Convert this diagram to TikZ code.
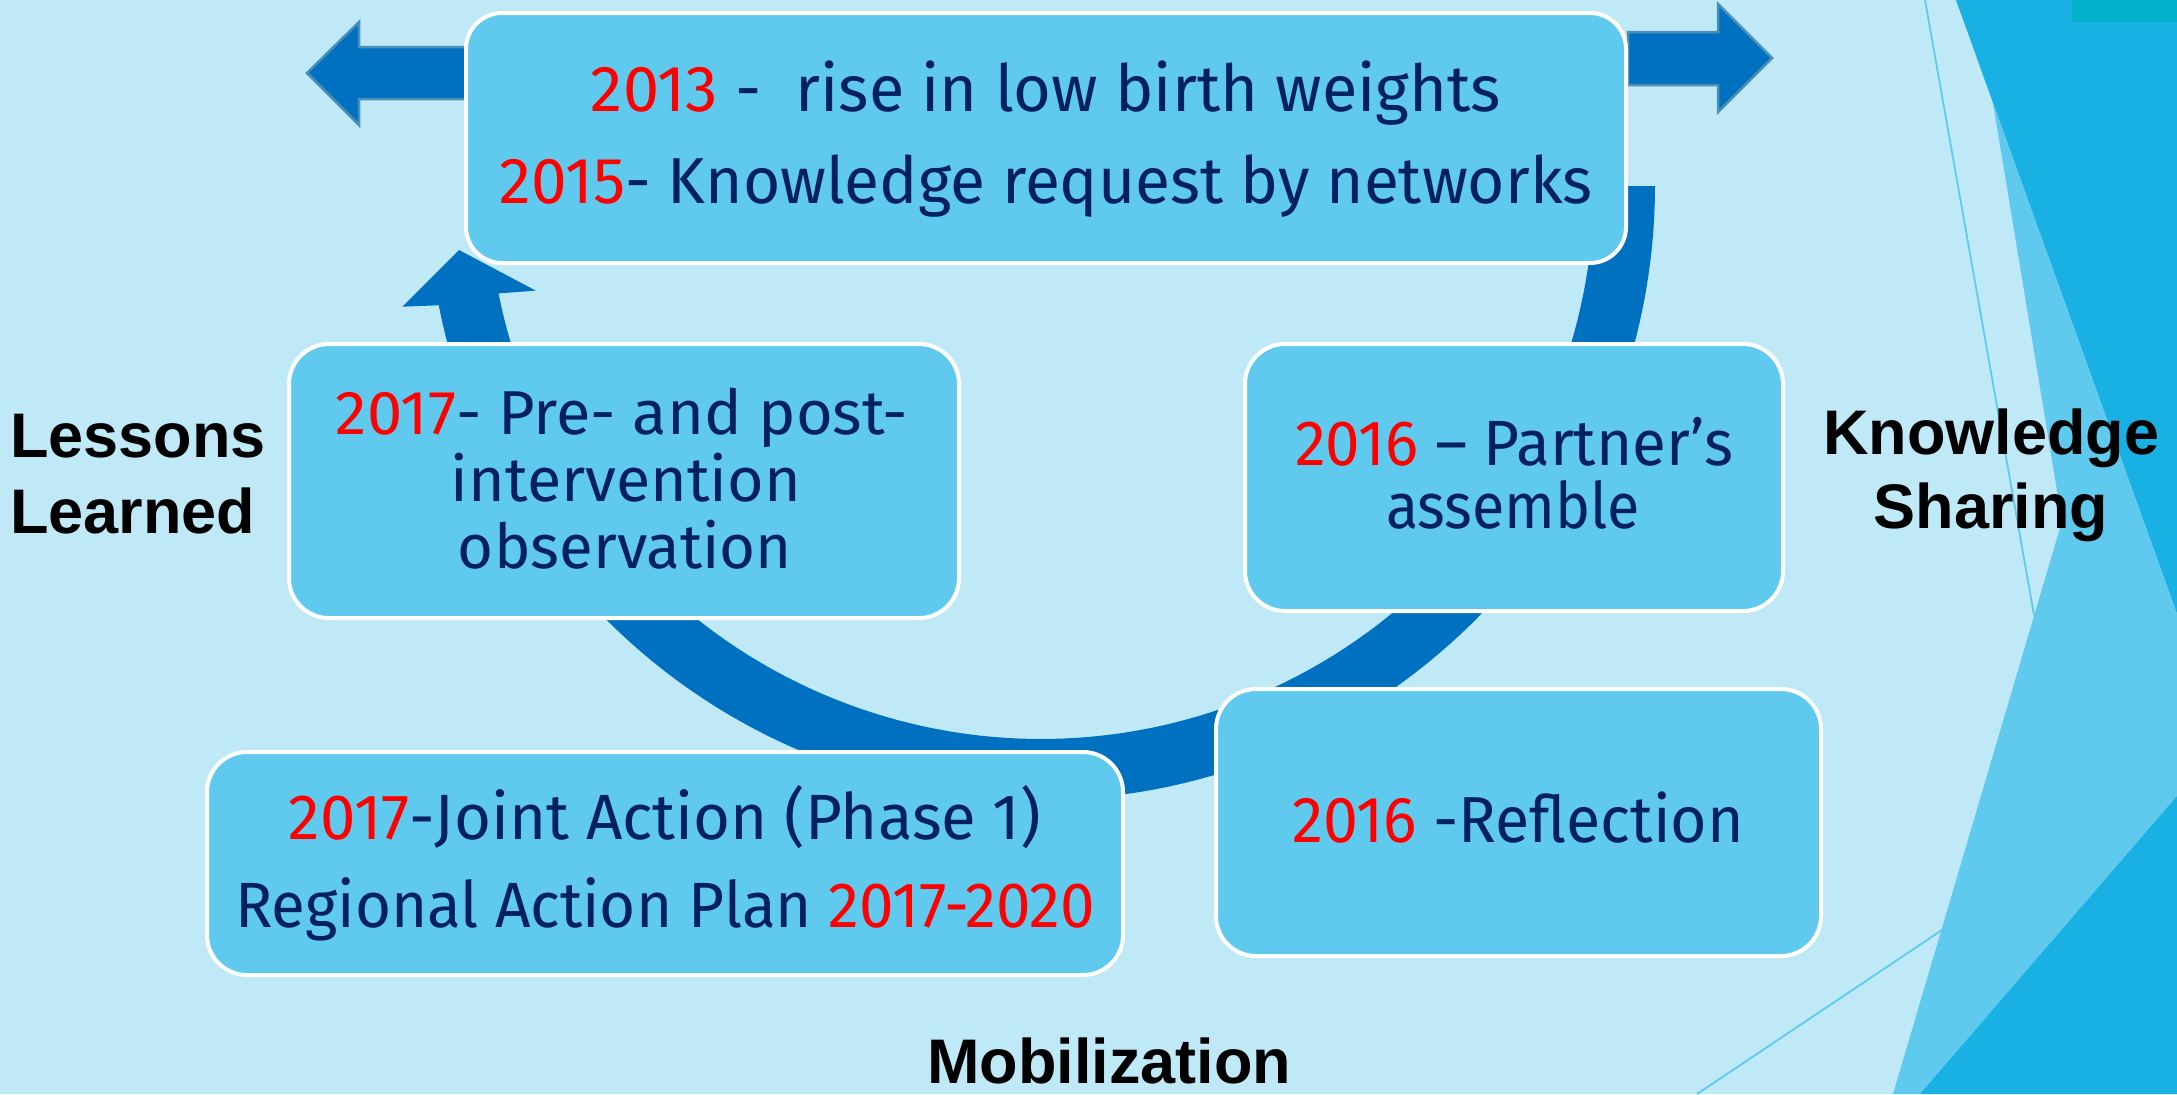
\documentclass[tikz,border=0pt]{standalone}
\usepackage{fontspec}
\usepackage{graphicx}
\newfontfamily\boxfont{Fira Sans}
\newfontfamily\labfont{Liberation Sans}
\definecolor{bgblue}{HTML}{C0E9F8}
\definecolor{boxfill}{HTML}{5FCAEE}
\definecolor{darkdeco}{HTML}{19B0E4}
\definecolor{tealdeco}{HTML}{01B0C9}
\definecolor{arcblue}{HTML}{0070C0}
\definecolor{arrowedge}{HTML}{4A90B4}
\definecolor{navytext}{HTML}{002060}
\definecolor{yearred}{HTML}{FF0000}
\newcommand\redyr[1]{\textcolor{yearred}{#1}}
\newcommand\fitw[2]{\resizebox{#1pt}{\height}{#2}}
\begin{document}
\begin{tikzpicture}[x=0.5pt,y=-0.5pt,
  stagebox/.style={draw=white, line width=2pt, fill=boxfill, rounded corners=20pt,
    inner sep=0pt, outer sep=0pt},
  boxtxt/.style={anchor=base, inner sep=0pt, text=navytext,
    font=\boxfont\fontsize{32.5}{39}\selectfont},
  labtxt/.style={inner sep=0pt, text=black,
    font=\labfont\bfseries\fontsize{31.5}{38}\selectfont},
  flatarrow/.style={fill=arcblue, draw=arrowedge, line width=1.25pt, line join=miter}]
% background
\fill[bgblue] (0,0) rectangle (2177,1094);
\useasboundingbox (0,0) rectangle (2177,1094);
% right decorations
\fill[darkdeco] (1956,0) -- (2177,0) -- (2177,614) -- (1993,103) -- cycle;
\fill[boxfill] (1993,103) -- (2177,614) -- (2177,796) -- (1920,1094) -- (1893,1094) -- (2062,521) -- cycle;
\fill[darkdeco] (1920,1094) -- (2177,796) -- (2177,1094) -- cycle;
\fill[tealdeco] (2072,0) rectangle (2177,22);
\draw[boxfill, line width=0.9pt] (1925,0) -- (2034,615);
\draw[boxfill, line width=0.9pt] (1697,1094) -- (1942,930);
% circular arrow
\fill[arcblue]
  plot[domain=0:168.8, samples=120] ({1041+614*cos(\x)},{186+614*sin(\x)})
  -- ({1041+650*cos(169.3)},{186+650*sin(169.3)})
  -- (459,250)
  -- ({1041+516*cos(168.3)},{186+516*sin(168.3)})
  -- plot[domain=168.8:0, samples=120] ({1041+553*cos(\x)},{186+553*sin(\x)})
  -- cycle;
% flat arrows at the top box
\draw[flatarrow] (466,47) -- (359,47) -- (359,22) -- (307,73) -- (359,125) -- (359,99) -- (466,99) -- cycle;
\draw[flatarrow] (1628,32) -- (1718,32) -- (1718,4) -- (1772,58) -- (1718,112) -- (1718,85) -- (1628,85) -- cycle;
% boxes
\node[stagebox, rounded corners=18pt, minimum width=580pt, minimum height=125pt] (top) at (1046,138) {};
\node[stagebox, minimum width=335pt, minimum height=137pt] (learn) at (624,481) {};
\node[stagebox, minimum width=269pt, minimum height=133.5pt] (assem) at (1514,477.5) {};
\node[stagebox, minimum width=458pt, minimum height=111.5pt] (joint) at (665,863.5) {};
\node[stagebox, minimum width=302.5pt, minimum height=133.5pt] (refl) at (1518.5,822.5) {};
% box texts
\node[boxtxt] (top1) at (1046,111) {\fitw{455}{\redyr{2013} -~~rise in low birth weights}};
\node[boxtxt] (top2) at (1046,203) {\fitw{546.5}{\redyr{2015}- Knowledge request by networks}};
\node[boxtxt, font=\boxfont\fontsize{31}{37}\selectfont] (learn1) at (622,434) {\fitw{286}{\redyr{2017}- Pre- and post-}};
\node[boxtxt, font=\boxfont\fontsize{31}{37}\selectfont] (learn2) at (626,501) {\fitw{175}{intervention}};
\node[boxtxt, font=\boxfont\fontsize{31}{37}\selectfont] (learn3) at (625,568) {\fitw{167}{observation}};
\node[boxtxt, font=\boxfont\fontsize{32}{38}\selectfont] (assem1) at (1514,465) {\fitw{219}{\redyr{2016} – Partner’s}};
\node[boxtxt, font=\boxfont\fontsize{32}{38}\selectfont] (assem2) at (1513,528) {\fitw{127}{assemble}};
\node[boxtxt, font=\boxfont\fontsize{32}{38}\selectfont] (joint1) at (665,839) {\fitw{376}{\redyr{2017}-Joint Action (Phase 1)}};
\node[boxtxt, font=\boxfont\fontsize{32}{38}\selectfont] (joint2) at (665,927) {\fitw{430}{Regional Action Plan \redyr{2017-2020}}};
\node[boxtxt] (refl1) at (1518,842) {\fitw{226}{\redyr{2016} -Reflection}};
% side labels
\node[labtxt, anchor=base west] (less1) at (10,457) {Lessons};
\node[labtxt, anchor=base west] (less2) at (10,533) {Learned};
\node[labtxt, anchor=base] (know1) at (1991,454) {Knowledge};
\node[labtxt, anchor=base] (know2) at (1991,528) {Sharing};
\node[labtxt, anchor=base] (mobil) at (1109,1083) {Mobilization};
\end{tikzpicture}
\end{document}
